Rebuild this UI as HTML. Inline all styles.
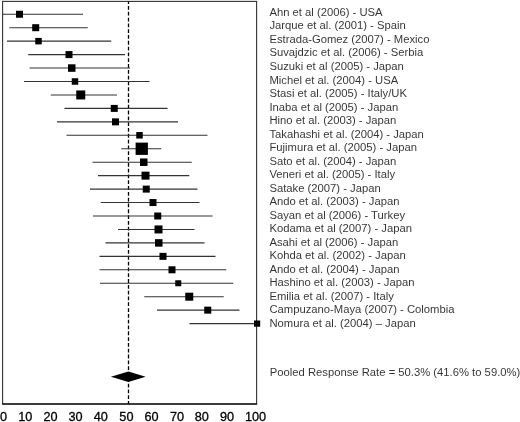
<!DOCTYPE html>
<html><head><meta charset="utf-8"><title>Forest plot</title>
<style>
html,body{margin:0;padding:0;background:#fff;}
body{width:520px;height:422px;overflow:hidden;}
svg{display:block;font-family:"Liberation Sans",sans-serif;}
</style></head><body>
<svg width="520" height="422" viewBox="0 0 520 422">
<defs><filter id="soft" x="-2%" y="-2%" width="104%" height="104%" color-interpolation-filters="sRGB"><feGaussianBlur stdDeviation="0.28"/></filter></defs>
<rect x="0" y="0" width="520" height="422" fill="#ffffff"/>
<rect x="2.6" y="1.4" width="254" height="402.6" fill="none" stroke="#333" stroke-width="1.1"/>
<line x1="2.05" y1="404" x2="257.15" y2="404" stroke="#222" stroke-width="1.5"/>
<line x1="128.5" y1="1.5" x2="128.5" y2="404" stroke="#000" stroke-width="1.3" stroke-dasharray="3.8 2.01" stroke-dashoffset="1.3"/>
<g stroke="#333" stroke-width="1.1">
<line x1="2.50" y1="14.25" x2="83.00" y2="14.25"/>
<line x1="9.30" y1="27.70" x2="87.75" y2="27.70"/>
<line x1="7.00" y1="41.15" x2="111.25" y2="41.15"/>
<line x1="28.25" y1="54.60" x2="125.00" y2="54.60"/>
<line x1="29.50" y1="68.05" x2="130.00" y2="68.05"/>
<line x1="24.00" y1="81.50" x2="149.50" y2="81.50"/>
<line x1="50.75" y1="94.95" x2="117.00" y2="94.95"/>
<line x1="64.50" y1="108.40" x2="167.50" y2="108.40"/>
<line x1="57.00" y1="121.85" x2="178.00" y2="121.85"/>
<line x1="66.50" y1="135.30" x2="207.50" y2="135.30"/>
<line x1="121.25" y1="148.75" x2="161.25" y2="148.75"/>
<line x1="92.50" y1="162.20" x2="191.75" y2="162.20"/>
<line x1="98.00" y1="175.65" x2="189.25" y2="175.65"/>
<line x1="90.00" y1="189.10" x2="197.50" y2="189.10"/>
<line x1="100.75" y1="202.55" x2="199.50" y2="202.55"/>
<line x1="93.00" y1="216.00" x2="212.50" y2="216.00"/>
<line x1="118.00" y1="229.45" x2="194.50" y2="229.45"/>
<line x1="105.50" y1="242.90" x2="204.50" y2="242.90"/>
<line x1="99.50" y1="256.35" x2="215.50" y2="256.35"/>
<line x1="99.50" y1="269.80" x2="226.25" y2="269.80"/>
<line x1="100.00" y1="283.25" x2="233.25" y2="283.25"/>
<line x1="144.25" y1="296.70" x2="223.75" y2="296.70"/>
<line x1="157.00" y1="310.15" x2="239.50" y2="310.15"/>
<line x1="189.50" y1="323.60" x2="257.00" y2="323.60"/>
</g>
<g fill="#000">
<rect x="16.00" y="10.75" width="7.00" height="7.00"/>
<rect x="32.20" y="24.20" width="7.00" height="7.00"/>
<rect x="35.25" y="37.90" width="6.50" height="6.50"/>
<rect x="65.50" y="51.10" width="7.00" height="7.00"/>
<rect x="68.00" y="64.30" width="7.50" height="7.50"/>
<rect x="71.75" y="78.25" width="6.50" height="6.50"/>
<rect x="76.25" y="90.45" width="9.00" height="9.00"/>
<rect x="110.75" y="104.90" width="7.00" height="7.00"/>
<rect x="112.00" y="118.35" width="7.00" height="7.00"/>
<rect x="136.25" y="132.05" width="6.50" height="6.50"/>
<rect x="135.60" y="142.60" width="12.30" height="12.30"/>
<rect x="140.00" y="158.45" width="7.50" height="7.50"/>
<rect x="141.50" y="171.65" width="8.00" height="8.00"/>
<rect x="142.75" y="185.60" width="7.00" height="7.00"/>
<rect x="149.50" y="199.05" width="7.00" height="7.00"/>
<rect x="154.25" y="212.50" width="7.00" height="7.00"/>
<rect x="154.50" y="225.45" width="8.00" height="8.00"/>
<rect x="155.00" y="239.15" width="7.50" height="7.50"/>
<rect x="159.50" y="252.85" width="7.00" height="7.00"/>
<rect x="168.50" y="266.30" width="7.00" height="7.00"/>
<rect x="175.25" y="280.25" width="6.00" height="6.00"/>
<rect x="185.25" y="292.70" width="8.00" height="8.00"/>
<rect x="204.25" y="306.65" width="7.00" height="7.00"/>
<rect x="254.00" y="320.50" width="6.20" height="6.20"/>
</g>
<polygon points="110.9,376.8 128.4,371.5 145.6,376.8 128.4,382.1" fill="#000"/>
<g font-size="11.25px" fill="#000" opacity="0.8" filter="url(#soft)">
<text x="269.4" y="15.90">Ahn et al (2006) - USA</text>
<text x="269.4" y="29.43">Jarque et al. (2001) - Spain</text>
<text x="269.4" y="42.95">Estrada-Gomez (2007) - Mexico</text>
<text x="269.4" y="56.48">Suvajdzic et al. (2006) - Serbia</text>
<text x="269.4" y="70.00">Suzuki et al (2005) - Japan</text>
<text x="269.4" y="83.53">Michel et al. (2004) - USA</text>
<text x="269.4" y="97.06">Stasi et al. (2005) - Italy/UK</text>
<text x="269.4" y="110.58">Inaba et al (2005) - Japan</text>
<text x="269.4" y="124.11">Hino et al. (2003) - Japan</text>
<text x="269.4" y="137.63">Takahashi et al. (2004) - Japan</text>
<text x="269.4" y="151.16">Fujimura et al. (2005) - Japan</text>
<text x="269.4" y="164.69">Sato et al. (2004) - Japan</text>
<text x="269.4" y="178.21">Veneri et al. (2005) - Italy</text>
<text x="269.4" y="191.74">Satake (2007) - Japan</text>
<text x="269.4" y="205.26">Ando et al. (2003) - Japan</text>
<text x="269.4" y="218.79">Sayan et al (2006) - Turkey</text>
<text x="269.4" y="232.32">Kodama et al (2007) - Japan</text>
<text x="269.4" y="245.84">Asahi et al (2006) - Japan</text>
<text x="269.4" y="259.37">Kohda et al. (2002) - Japan</text>
<text x="269.4" y="272.89">Ando et al. (2004) - Japan</text>
<text x="269.4" y="286.42">Hashino et al. (2003) - Japan</text>
<text x="269.4" y="299.95">Emilia et al. (2007) - Italy</text>
<text x="269.4" y="313.47">Campuzano-Maya (2007) - Colombia</text>
<text x="269.4" y="327.00">Nomura et al. (2004) – Japan</text>
<text x="269.8" y="376.1">Pooled Response Rate = 50.3% (41.6% to 59.0%)</text>
</g>
<g font-size="12.7px" fill="#000" stroke="#000" stroke-width="0.3" text-anchor="middle" filter="url(#soft)">
<text x="3.50" y="421.2">0</text>
<text x="25.20" y="421.2">10</text>
<text x="50.60" y="421.2">20</text>
<text x="75.50" y="421.2">30</text>
<text x="100.75" y="421.2">40</text>
<text x="126.40" y="421.2">50</text>
<text x="151.60" y="421.2">60</text>
<text x="177.10" y="421.2">70</text>
<text x="201.85" y="421.2">80</text>
<text x="227.10" y="421.2">90</text>
<text x="255.60" y="421.2">100</text>
</g>
</svg>
</body></html>
